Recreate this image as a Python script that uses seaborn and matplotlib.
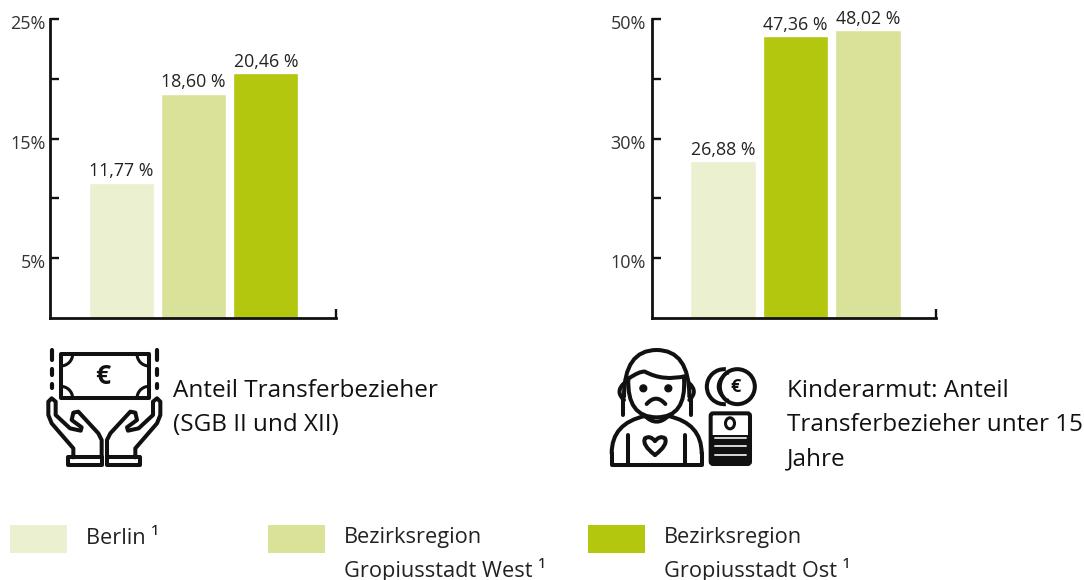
import matplotlib
matplotlib.use("Agg")
import matplotlib.pyplot as plt
from matplotlib.patches import Arc, Circle, Ellipse, FancyBboxPatch, PathPatch, Polygon, Rectangle
from matplotlib.path import Path
from matplotlib.transforms import ScaledTranslation
import seaborn as sns

# bar heights as drawn, labels as printed (the source is not quite to scale)
left_cats = ["Berlin", "Gropiusstadt West", "Gropiusstadt Ost"]
left_values = [11.3, 18.75, 20.45]
left_labels = ["11,77 %", "18,60 %", "20,46 %"]
left_ticks = [5, 10, 15, 20, 25]
left_ticklabels = ["5%", "", "15%", "", "25%"]

right_cats = ["Berlin", "Gropiusstadt Ost", "Gropiusstadt West"]
right_values = [26.2, 47.1, 48.1]
right_labels = ["26,88 %", "47,36 %", "48,02 %"]
right_ticks = [10, 20, 30, 40, 50]
right_ticklabels = ["10%", "", "30%", "", "50%"]

colors = {"Berlin": "#EBF0D0", "Gropiusstadt West": "#DAE29A", "Gropiusstadt Ost": "#B2C70E"}
INK = "#111111"
W, H = 1084, 580

sns.set_theme(style="white")
plt.rcParams["font.family"] = ["Open Sans", "DejaVu Sans"]

fig = plt.figure(figsize=(W / 100, H / 100), dpi=100)


def px_axes(x0, y0, x1, y1):
    return fig.add_axes([x0 / W, 1 - y1 / H, (x1 - x0) / W, (y1 - y0) / H])


def draw_chart(ax, cats, values, labels, ticks, ticklabels, ymax, xlim, tick_pad):
    sns.barplot(x=cats, y=values, hue=cats, order=cats, hue_order=cats, palette=colors,
                width=0.9, dodge=False, saturation=1, legend=False, ax=ax)
    for container, label in zip(ax.containers, labels):
        ax.bar_label(container, labels=[label], padding=2, fontsize=12.8, color="#222222")
    ax.set_xlim(*xlim)
    ax.set_ylim(0, ymax)
    ax.set_xlabel("")
    ax.set_ylabel("")
    ax.patch.set_alpha(0)
    ax.spines["top"].set_visible(False)
    ax.spines["right"].set_visible(False)
    for side in ["left", "bottom"]:
        ax.spines[side].set_linewidth(2)
        ax.spines[side].set_color(INK)
    ax.set_yticks(ticks, ticklabels)
    ax.set_xticks([xlim[1]], [""])
    ax.tick_params(axis="both", direction="in", length=6.5, width=1.7, color=INK, left=True, bottom=True)
    ax.tick_params(axis="y", labelsize=13, labelcolor="#333333", pad=tick_pad)
    # labels sit slightly below their ticks in the source
    shift = ScaledTranslation(0, -3 / 100, fig.dpi_scale_trans)
    for lab in ax.get_yticklabels():
        lab.set_transform(lab.get_transform() + shift)


ax_left = px_axes(50, 19, 336, 318)
draw_chart(ax_left, left_cats, left_values, left_labels, left_ticks, left_ticklabels, 25, (-0.99, 2.97), 3)

ax_right = px_axes(652, 19, 936, 318)
draw_chart(ax_right, right_cats, right_values, right_labels, right_ticks, right_ticklabels, 50, (-0.98, 2.94), 4.5)

# overlay in pixel coordinates for the icons, captions and legend
ov = fig.add_axes([0, 0, 1, 1])
ov.set_xlim(0, W)
ov.set_ylim(H, 0)
ov.axis("off")
ov.patch.set_alpha(0)


def zoomed(ox, oy):
    return lambda pts: [(ox + x / 3, oy + y / 3) for x, y in pts]


def stroke(pts, lw=2.9, closed=False):
    ov.add_patch(Polygon(pts, closed=closed, fill=False, edgecolor=INK, linewidth=lw, joinstyle="round", capstyle="round"))


def smooth(pts, lw=2.9):
    # curve through the control points
    codes = [Path.MOVETO] + [Path.CURVE3] * (len(pts) - 1)
    ov.add_patch(PathPatch(Path(pts, codes), fill=False, edgecolor=INK, linewidth=lw, capstyle="round"))


# money icon
z = zoomed(30, 340)
stroke(z([(92, 42), (357, 42), (357, 175), (92, 175)]), closed=True)
for cx, cy, start in [(92, 42, 0), (357, 42, 90), (357, 175, 180), (92, 175, 270)]:
    (px, py), = z([(cx, cy)])
    ov.add_patch(Arc((px, py), 24, 24, theta1=start, theta2=start + 90, edgecolor=INK, linewidth=2.2))
ov.text(102.5, 376, "€", fontsize=19, fontweight="bold", color=INK, ha="center", va="center")
for x in (65, 381):
    for y0, y1 in [(30, 60), (88, 105), (132, 143)]:
        stroke(z([(x, y0), (x, y1)]), lw=3)
hand = [(130, 352), (130, 325), (65, 250), (55, 225), (55, 185), (65, 175), (77, 185), (77, 225),
        (120, 265), (152, 272), (155, 262), (125, 240), (130, 218), (145, 215), (205, 280), (215, 300), (215, 352)]
cuff = [(115, 352), (215, 352), (215, 375), (115, 375)]
stroke(z(hand))
stroke(z(cuff), closed=True)
stroke(z([(446 - x, y) for x, y in hand]))
stroke(z([(446 - x, y) for x, y in cuff]), closed=True)

# child icon
z = zoomed(600, 340)
smooth(z([(72, 170), (72, 30), (170, 30), (268, 30), (268, 170)]))
smooth(z([(82, 118), (120, 92), (135, 95), (190, 125), (258, 108)]))
smooth(z([(85, 115), (80, 232), (170, 232), (260, 232), (252, 115)]))
smooth(z([(72, 130), (45, 155), (72, 180)]))
smooth(z([(268, 130), (295, 155), (268, 180)]))
stroke(z([(68, 175), (68, 225)]))
stroke(z([(272, 175), (272, 225)]))
smooth(z([(135, 228), (170, 262), (205, 228)]))
smooth(z([(140, 192), (168, 160), (196, 192)]))
for x in (130, 205):
    (px, py), = z([(x, 145)])
    ov.add_patch(Circle((px, py), 3.4, color=INK))
smooth(z([(135, 228), (35, 250), (35, 340)]))
smooth(z([(205, 228), (305, 250), (305, 340)]))
stroke(z([(35, 340), (35, 375), (305, 375), (305, 340)]))
stroke(z([(85, 285), (85, 372)]))
stroke(z([(255, 285), (255, 372)]))
smooth(z([(165, 345), (125, 315), (135, 295), (150, 285), (165, 303)]))
smooth(z([(165, 345), (205, 315), (195, 295), (180, 285), (165, 303)]))
(cx, cy), = z([(412, 140)])
ov.add_patch(Circle((cx, cy), 17.5, fill=False, edgecolor=INK, linewidth=2.9))
ov.add_patch(Arc((cx - 13, cy), 35, 35, theta1=85, theta2=275, edgecolor=INK, linewidth=2.9))
ov.add_patch(Arc((cx - 6, cy), 27, 27, theta1=100, theta2=260, edgecolor=INK, linewidth=1.6))
ov.text(cx - 2, cy + 0.5, "€", fontsize=13, fontweight="bold", color=INK, ha="center", va="center")
(sx0, sy0), (sx1, sy1) = z([(332, 220), (450, 372)])
ov.add_patch(FancyBboxPatch((sx0, sy0), sx1 - sx0, sy1 - sy0, boxstyle="round,pad=0,rounding_size=2.5",
                            fill=False, edgecolor=INK, linewidth=2.9))
ov.add_patch(Rectangle((sx0, sy0 + 22), sx1 - sx0, sy1 - sy0 - 22, color=INK, linewidth=0))
for y in (293, 318, 344):
    stroke(z([(345, y), (438, y)]), lw=1.4)
    ov.patches[-1].set_edgecolor("#d8d8d8")
(px, py), = z([(390, 250)])
ov.add_patch(Ellipse((px, py), 9, 11, fill=False, edgecolor=INK, linewidth=2.2))

# captions
caption = dict(fontsize=17.5, color="#111111", va="center", ha="left", linespacing=1)
ov.text(173, 391, "Anteil Transferbezieher", **caption)
ov.text(173, 425, "(SGB II und XII)", **caption)
ov.text(787, 391, "Kinderarmut: Anteil", **caption)
ov.text(787, 425, "Transferbezieher unter 15", **caption)
ov.text(787, 459, "Jahre", **caption)

# legend
legend_text = dict(fontsize=15.7, color="#222222", va="center", ha="left")
for x, key in [(10, "Berlin"), (268, "Gropiusstadt West"), (588, "Gropiusstadt Ost")]:
    ov.add_patch(Rectangle((x, 525), 57, 28, color=colors[key], linewidth=0))
ov.text(86, 538, "Berlin ¹", **legend_text)
ov.text(344, 538, "Bezirksregion", **legend_text)
ov.text(344, 570, "Gropiusstadt West ¹", **legend_text)
ov.text(664, 538, "Bezirksregion", **legend_text)
ov.text(664, 570, "Gropiusstadt Ost ¹", **legend_text)

fig.savefig("out.png", dpi=100, facecolor="white")
